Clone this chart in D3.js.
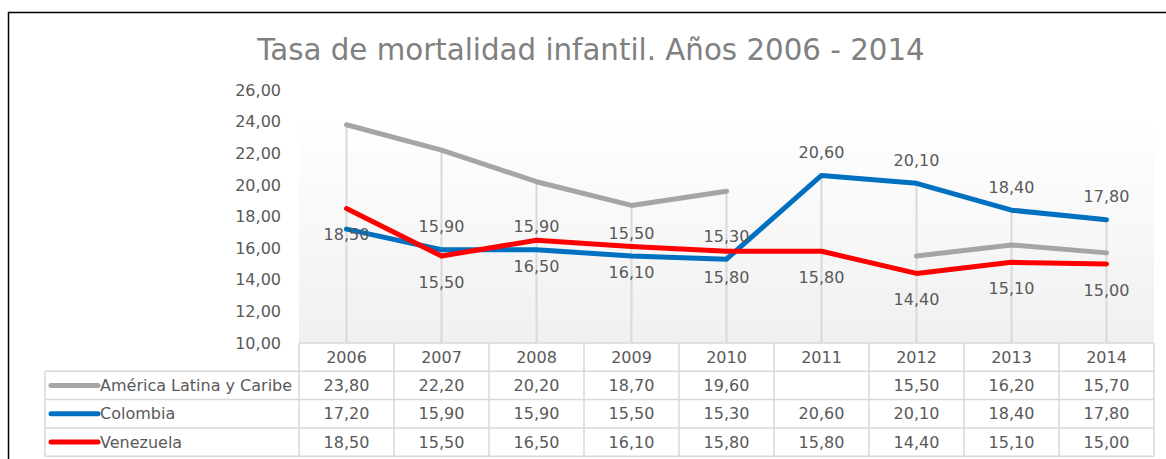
<!DOCTYPE html>
<html>
<head>
<meta charset="utf-8">
<script src="https://cdn.jsdelivr.net/npm/d3@7"></script>
<style>
    body { margin: 0; background: #fff; }
    svg { display: block; font-family: "DejaVu Sans", sans-serif; }
</style>
</head>
<body>
<div id="chart"></div>
<script>
const years = ['2006', '2007', '2008', '2009', '2010', '2011', '2012', '2013', '2014'];
const seriesNames = ['América Latina y Caribe', 'Colombia', 'Venezuela'];
const americaLatina = [23.8, 22.2, 20.2, 18.7, 19.6, null, 15.5, 16.2, 15.7];
const colombia = [17.2, 15.9, 15.9, 15.5, 15.3, 20.6, 20.1, 18.4, 17.8];
const venezuela = [18.5, 15.5, 16.5, 16.1, 15.8, 15.8, 14.4, 15.1, 15.0];
const yTicks = [10, 12, 14, 16, 18, 20, 22, 24, 26];
const title = 'Tasa de mortalidad infantil. Años 2006 - 2014';

site = {};

site.chart = (() => {
    const width = 1166;
    const height = 459;
    const plot = { left: 299, right: 1154, top: 118, bottom: 343 };
    const rowH = 28.3;
    const legendLeft = 45;
    const textColor = '#595959';
    const gridColor = '#d9d9d9';

    const fmt = d3.formatLocale({ decimal: ',', thousands: '.', grouping: [3], currency: ['', ''] }).format('.2f');

    const series = [
        { name: seriesNames[0], values: americaLatina, color: '#a5a5a5', label: null },
        { name: seriesNames[1], values: colombia, color: '#0070c0', label: 'above' },
        { name: seriesNames[2], values: venezuela, color: '#ff0000', label: 'below' }
    ];

    const create = () => {
        const svg = d3.select('#chart')
            .append('svg')
            .attr('width', width)
            .attr('height', height);

        const x = d3.scaleBand()
            .domain(years)
            .range([plot.left, plot.right]);

        const y = d3.scaleLinear()
            .domain([10, 26])
            .range([plot.bottom, 90]);

        const cx = d => x(d) + x.bandwidth() / 2;

        // outer frame
        svg.append('rect')
            .attr('x', 8.5).attr('y', 12.5)
            .attr('width', 1170).attr('height', 470)
            .attr('fill', 'none')
            .attr('stroke', '#000')
            .attr('stroke-width', 1.5);

        svg.append('text')
            .attr('x', 591)
            .attr('y', 60)
            .attr('text-anchor', 'middle')
            .attr('font-size', '29.3px')
            .attr('fill', '#808080')
            .text(title);

        // plot area gradient
        const grad = svg.append('defs').append('linearGradient')
            .attr('id', 'bg')
            .attr('x1', 0).attr('y1', 0).attr('x2', 0).attr('y2', 1);
        grad.append('stop').attr('offset', '0%').attr('stop-color', '#ffffff');
        grad.append('stop').attr('offset', '100%').attr('stop-color', '#f0f0f0');

        svg.append('rect')
            .attr('x', plot.left).attr('y', plot.top)
            .attr('width', plot.right - plot.left)
            .attr('height', plot.bottom - plot.top)
            .attr('fill', 'url(#bg)');

        // y axis labels
        svg.append('g')
            .attr('transform', `translate(281, 0)`)
            .call(d3.axisLeft(y).tickValues(yTicks).tickSize(0).tickPadding(0).tickFormat(fmt))
            .call(g => g.select('.domain').remove())
            .selectAll('text')
            .attr('font-size', '16px')
            .attr('font-family', '"DejaVu Sans", sans-serif')
            .attr('fill', textColor);

        // drop lines from the highest point of each year
        svg.append('g')
            .selectAll('line')
            .data(years)
            .join('line')
            .attr('x1', d => cx(d))
            .attr('x2', d => cx(d))
            .attr('y1', (d, i) => y(d3.max(series, s => s.values[i])))
            .attr('y2', y(10))
            .attr('stroke', gridColor)
            .attr('stroke-width', 2);

        const line = d3.line()
            .defined(d => d.v !== null)
            .x(d => cx(d.year))
            .y(d => y(d.v));

        series.forEach(s => {
            svg.append('path')
                .datum(years.map((year, i) => ({ year, v: s.values[i] })))
                .attr('d', line)
                .attr('fill', 'none')
                .attr('stroke', s.color)
                .attr('stroke-width', 5)
                .attr('stroke-linecap', 'round')
                .attr('stroke-linejoin', 'round');
        });

        // data labels (Colombia above, Venezuela below; first Colombia label hidden)
        series.filter(s => s.label).forEach(s => {
            const pts = years.map((year, i) => ({ year, v: s.values[i], i }))
                .filter(d => !(s.label === 'above' && d.i === 0));
            svg.append('g')
                .selectAll('text')
                .data(pts)
                .join('text')
                .attr('x', d => cx(d.year))
                .attr('y', d => y(d.v) + (s.label === 'above' ? -23 : 26))
                .attr('dy', '0.35em')
                .attr('text-anchor', 'middle')
                .attr('font-size', '16px')
                .attr('fill', textColor)
                .text(d => fmt(d.v));
        });

        // data table
        const table = svg.append('g')
            .attr('stroke', gridColor)
            .attr('stroke-width', 1.5);
        const rowsY = d3.range(5).map(i => plot.bottom + i * rowH);

        table.append('line')
            .attr('x1', plot.left).attr('x2', plot.right)
            .attr('y1', rowsY[0]).attr('y2', rowsY[0]);
        rowsY.slice(1).forEach(ry => {
            table.append('line')
                .attr('x1', legendLeft).attr('x2', plot.right)
                .attr('y1', ry).attr('y2', ry);
        });
        table.append('line')
            .attr('x1', legendLeft).attr('x2', legendLeft)
            .attr('y1', rowsY[1]).attr('y2', rowsY[4]);
        years.concat(['end']).forEach((yr, i) => {
            const xx = plot.left + i * x.bandwidth();
            table.append('line')
                .attr('x1', xx).attr('x2', xx)
                .attr('y1', rowsY[0]).attr('y2', rowsY[4]);
        });

        svg.append('g')
            .selectAll('text')
            .data(years)
            .join('text')
            .attr('x', d => cx(d))
            .attr('y', rowsY[0] + rowH / 2)
            .attr('dy', '0.35em')
            .attr('text-anchor', 'middle')
            .attr('font-size', '16px')
            .attr('fill', textColor)
            .text(d => d);

        series.forEach((s, si) => {
            const mid = rowsY[si + 1] + rowH / 2;
            const row = svg.append('g');
            row.append('line')
                .attr('x1', 51).attr('x2', 98)
                .attr('y1', mid).attr('y2', mid)
                .attr('stroke', s.color)
                .attr('stroke-width', 5)
                .attr('stroke-linecap', 'round');
            row.append('text')
                .attr('x', 100)
                .attr('y', mid)
                .attr('dy', '0.35em')
                .attr('font-size', '16px')
                .attr('fill', textColor)
                .text(s.name);
            row.selectAll('text.val')
                .data(years.map((year, i) => ({ year, v: s.values[i] })).filter(d => d.v !== null))
                .join('text')
                .attr('class', 'val')
                .attr('x', d => cx(d.year))
                .attr('y', mid)
                .attr('dy', '0.35em')
                .attr('text-anchor', 'middle')
                .attr('font-size', '16px')
                .attr('fill', textColor)
                .text(d => fmt(d.v));
        });
    };

    return {
        create
    }
})();

site.chart.create();
</script>
</body>
</html>
